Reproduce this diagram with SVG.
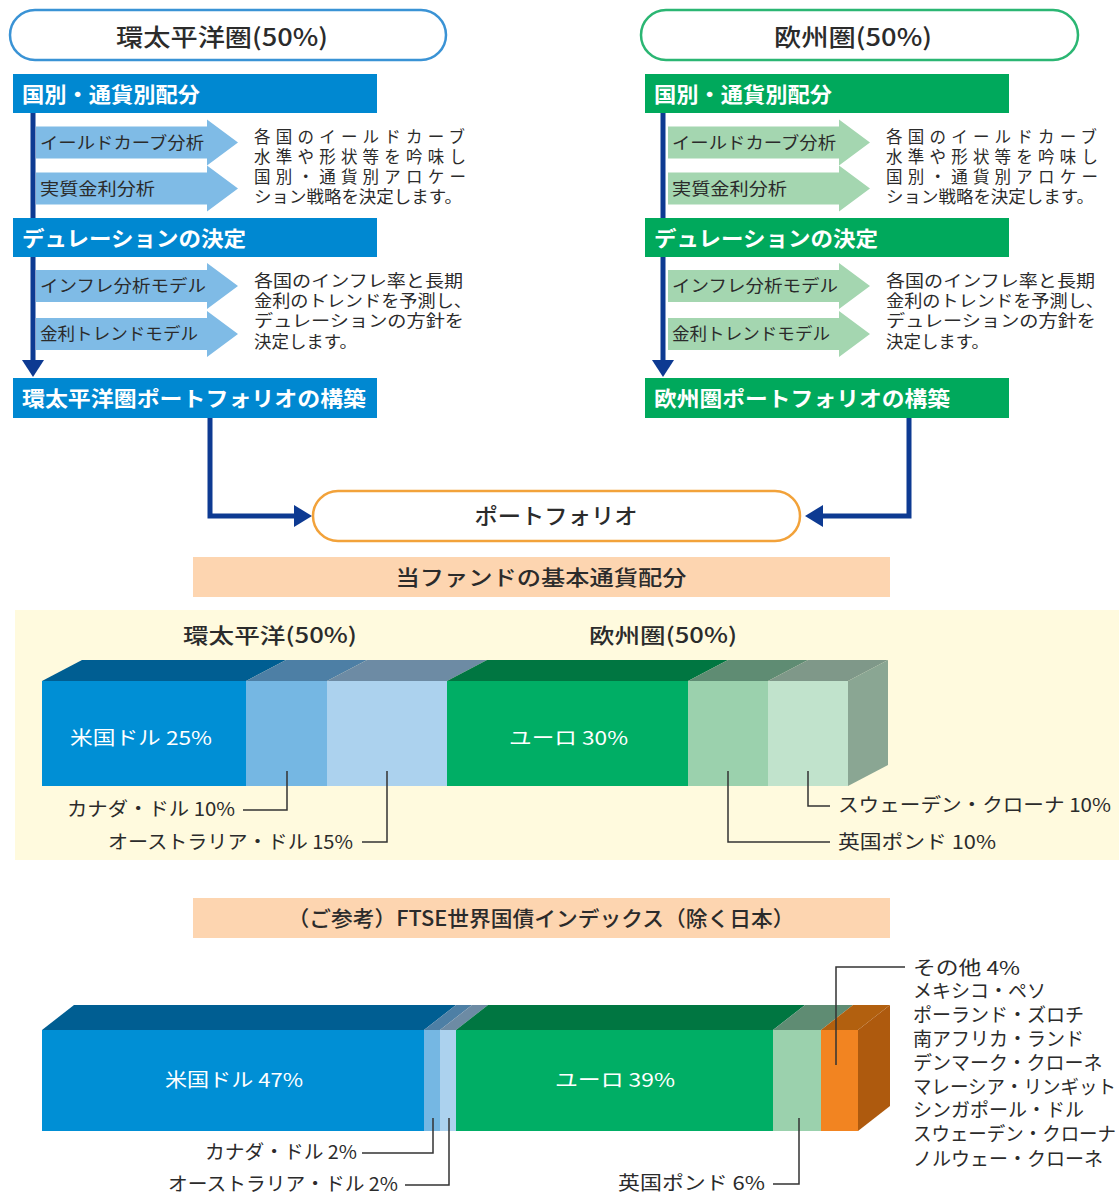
<svg xmlns="http://www.w3.org/2000/svg" width="1119" height="1194" viewBox="0 0 1119 1194">
<style>
text{font-family:"Noto Sans CJK JP","Noto Sans",sans-serif;fill:#2b2b2b}
.hd{fill:#fff;font-weight:700;font-size:21px}
.al{font-size:17px}
.ds{font-size:16.5px}
.ttl{font-size:24px;font-weight:500}
.lb{font-size:19px}
.wl{font-size:19px;fill:#fff}
.bh{fill:#0088d1}
.gh{fill:#00a95c}
.ba{fill:#7fbbe6}
.ga{fill:#a4d6b0}
.vl{stroke:#0d3a92;stroke-width:5;fill:none}
.ld{stroke:#333;stroke-width:1.5;fill:none}
</style>
<defs>
<polygon id="arw" points="0,-16 171,-16 171,-23 202,0 171,23 171,16 0,16"/>
</defs>

<g id="pill-asia">
<rect x="10" y="10" width="436" height="50" rx="25" fill="#fff" stroke="#3a93d5" stroke-width="2.5"/>
<text class="ttl" x="222" y="46" text-anchor="middle" textLength="212" lengthAdjust="spacingAndGlyphs">環太平洋圏(50%)</text>
</g>
<g id="pill-europe">
<rect x="641" y="10" width="437" height="50" rx="25" fill="#fff" stroke="#2bb673" stroke-width="2.5"/>
<text class="ttl" x="853" y="46" text-anchor="middle" textLength="158" lengthAdjust="spacingAndGlyphs">欧州圏(50%)</text>
</g>

<g id="asia-flow">
<line class="vl" x1="33" y1="113" x2="33" y2="362"/>
<polygon points="22,360 44,360 33,377" fill="#0d3a92"/>
<g id="asia-h1"><rect class="bh" x="13" y="74" width="364" height="39"/><text class="hd" x="22" y="102" textLength="178" lengthAdjust="spacingAndGlyphs">国別・通貨別配分</text></g>
<g id="asia-a1"><use href="#arw" class="ba" x="36" y="142.5"/><text class="al" x="40" y="148.5" textLength="164" lengthAdjust="spacingAndGlyphs">イールドカーブ分析</text></g>
<g id="asia-a2"><use href="#arw" class="ba" x="36" y="188.5"/><text class="al" x="40" y="194.5" textLength="115" lengthAdjust="spacingAndGlyphs">実質金利分析</text></g>
<g id="asia-d1">
<text class="ds" x="254" y="143" textLength="211" lengthAdjust="spacing">各国のイールドカーブ</text>
<text class="ds" x="254" y="163" textLength="212" lengthAdjust="spacing">水準や形状等を吟味し</text>
<text class="ds" x="254" y="183" textLength="212" lengthAdjust="spacing">国別・通貨別アロケー</text>
<text class="ds" x="254" y="203" textLength="208" lengthAdjust="spacingAndGlyphs">ション戦略を決定します。</text>
</g>
<g id="asia-h2"><rect class="bh" x="13" y="218" width="364" height="39"/><text class="hd" x="22" y="246" textLength="224" lengthAdjust="spacingAndGlyphs">デュレーションの決定</text></g>
<g id="asia-a3"><use href="#arw" class="ba" x="36" y="286"/><text class="al" x="40" y="292" textLength="166" lengthAdjust="spacingAndGlyphs">インフレ分析モデル</text></g>
<g id="asia-a4"><use href="#arw" class="ba" x="36" y="334"/><text class="al" x="40" y="340" textLength="158" lengthAdjust="spacingAndGlyphs">金利トレンドモデル</text></g>
<g id="asia-d2">
<text class="ds" x="254" y="287" textLength="209" lengthAdjust="spacingAndGlyphs">各国のインフレ率と長期</text>
<text class="ds" x="254" y="307" textLength="218" lengthAdjust="spacingAndGlyphs">金利のトレンドを予測し、</text>
<text class="ds" x="254" y="327" textLength="210" lengthAdjust="spacingAndGlyphs">デュレーションの方針を</text>
<text class="ds" x="254" y="348" textLength="103" lengthAdjust="spacingAndGlyphs">決定します。</text>
</g>
<g id="asia-h3"><rect class="bh" x="13" y="378" width="364" height="40"/><text class="hd" x="22" y="406" textLength="344" lengthAdjust="spacingAndGlyphs">環太平洋圏ポートフォリオの構築</text></g>
</g>

<g id="europe-flow">
<line class="vl" x1="663" y1="113" x2="663" y2="362"/>
<polygon points="652,360 674,360 663,377" fill="#0d3a92"/>
<g id="eu-h1"><rect class="gh" x="645" y="74" width="364" height="39"/><text class="hd" x="654" y="102" textLength="178" lengthAdjust="spacingAndGlyphs">国別・通貨別配分</text></g>
<g id="eu-a1"><use href="#arw" class="ga" x="668" y="142.5"/><text class="al" x="672" y="148.5" textLength="164" lengthAdjust="spacingAndGlyphs">イールドカーブ分析</text></g>
<g id="eu-a2"><use href="#arw" class="ga" x="668" y="188.5"/><text class="al" x="672" y="194.5" textLength="115" lengthAdjust="spacingAndGlyphs">実質金利分析</text></g>
<g id="eu-d1">
<text class="ds" x="886" y="143" textLength="211" lengthAdjust="spacing">各国のイールドカーブ</text>
<text class="ds" x="886" y="163" textLength="212" lengthAdjust="spacing">水準や形状等を吟味し</text>
<text class="ds" x="886" y="183" textLength="212" lengthAdjust="spacing">国別・通貨別アロケー</text>
<text class="ds" x="886" y="203" textLength="208" lengthAdjust="spacingAndGlyphs">ション戦略を決定します。</text>
</g>
<g id="eu-h2"><rect class="gh" x="645" y="218" width="364" height="39"/><text class="hd" x="654" y="246" textLength="224" lengthAdjust="spacingAndGlyphs">デュレーションの決定</text></g>
<g id="eu-a3"><use href="#arw" class="ga" x="668" y="286"/><text class="al" x="672" y="292" textLength="166" lengthAdjust="spacingAndGlyphs">インフレ分析モデル</text></g>
<g id="eu-a4"><use href="#arw" class="ga" x="668" y="334"/><text class="al" x="672" y="340" textLength="158" lengthAdjust="spacingAndGlyphs">金利トレンドモデル</text></g>
<g id="eu-d2">
<text class="ds" x="886" y="287" textLength="209" lengthAdjust="spacingAndGlyphs">各国のインフレ率と長期</text>
<text class="ds" x="886" y="307" textLength="218" lengthAdjust="spacingAndGlyphs">金利のトレンドを予測し、</text>
<text class="ds" x="886" y="327" textLength="210" lengthAdjust="spacingAndGlyphs">デュレーションの方針を</text>
<text class="ds" x="886" y="348" textLength="103" lengthAdjust="spacingAndGlyphs">決定します。</text>
</g>
<g id="eu-h3"><rect class="gh" x="645" y="378" width="364" height="40"/><text class="hd" x="654" y="406" textLength="296" lengthAdjust="spacingAndGlyphs">欧州圏ポートフォリオの構築</text></g>
</g>

<g id="connectors">
<polyline class="vl" points="210,418 210,516 296,516"/>
<polygon points="294,505 312,516 294,527" fill="#0d3a92"/>
<polyline class="vl" points="909,418 909,516 821,516"/>
<polygon points="823,505 805,516 823,527" fill="#0d3a92"/>
</g>

<g id="portfolio">
<rect x="313" y="491" width="487" height="50" rx="25" fill="#fff" stroke="#f2a23a" stroke-width="2.5"/>
<text x="556" y="524" font-size="22" font-weight="500" text-anchor="middle" textLength="163" lengthAdjust="spacingAndGlyphs">ポートフォリオ</text>
</g>

<g id="band1">
<rect x="193" y="557" width="697" height="40" fill="#fdd5b0"/>
<text x="541" y="585" font-size="21" font-weight="500" fill="#444" text-anchor="middle" textLength="291" lengthAdjust="spacingAndGlyphs">当ファンドの基本通貨配分</text>
</g>

<g id="chart1">
<rect x="15" y="610" width="1104" height="250" fill="#fffade"/>
<text x="270" y="643" font-size="21" font-weight="500" text-anchor="middle" textLength="174" lengthAdjust="spacingAndGlyphs">環太平洋(50%)</text>
<text x="663" y="643" font-size="21" font-weight="500" text-anchor="middle" textLength="148" lengthAdjust="spacingAndGlyphs">欧州圏(50%)</text>
<polygon points="42,681 246,681 286,660 82,660" fill="#005e92"/>
<polygon points="246,681 327,681 367,660 286,660" fill="#4d7fa5"/>
<polygon points="327,681 447,681 487,660 367,660" fill="#6d8ba4"/>
<polygon points="447,681 688,681 728,660 487,660" fill="#007641"/>
<polygon points="688,681 768,681 808,660 728,660" fill="#5f8c73"/>
<polygon points="768,681 848,681 888,660 808,660" fill="#7f9889"/>
<polygon points="848,681 888,660 888,765 848,786" fill="#8aa693"/>
<rect x="42" y="681" width="204" height="105" fill="#008fd5"/>
<rect x="246" y="681" width="81" height="105" fill="#75b7e3"/>
<rect x="327" y="681" width="120" height="105" fill="#acd2ee"/>
<rect x="447" y="681" width="241" height="105" fill="#00ae65"/>
<rect x="688" y="681" width="80" height="105" fill="#9bd1ad"/>
<rect x="768" y="681" width="80" height="105" fill="#c1e3cc"/>
<text class="wl" x="70" y="745" textLength="142" lengthAdjust="spacingAndGlyphs">米国ドル 25%</text>
<text class="wl" x="509" y="745" textLength="119" lengthAdjust="spacingAndGlyphs">ユーロ 30%</text>
<polyline class="ld" points="287,771 287,810 243,810"/>
<polyline class="ld" points="387,771 387,842 362,842"/>
<polyline class="ld" points="808,771 808,806 830,806"/>
<polyline class="ld" points="728,771 728,842 830,842"/>
<text class="lb" x="235" y="816" text-anchor="end" textLength="168" lengthAdjust="spacingAndGlyphs">カナダ・ドル 10%</text>
<text class="lb" x="353" y="849" text-anchor="end" textLength="245" lengthAdjust="spacingAndGlyphs">オーストラリア・ドル 15%</text>
<text class="lb" x="838" y="812" textLength="273" lengthAdjust="spacingAndGlyphs">スウェーデン・クローナ 10%</text>
<text class="lb" x="838" y="849" textLength="158" lengthAdjust="spacingAndGlyphs">英国ポンド 10%</text>
</g>

<g id="band2">
<rect x="193" y="898" width="697" height="40" fill="#fdd5b0"/>
<text x="541" y="926" font-size="21" font-weight="500" fill="#444" text-anchor="middle" textLength="507" lengthAdjust="spacingAndGlyphs">（ご参考）FTSE世界国債インデックス（除く日本）</text>
</g>

<g id="chart2">
<polygon points="42,1030 424,1030 456,1005 74,1005" fill="#005e92"/>
<polygon points="424,1030 440,1030 472,1005 456,1005" fill="#4d7fa5"/>
<polygon points="440,1030 456,1030 488,1005 472,1005" fill="#6d8ba4"/>
<polygon points="456,1030 773,1030 805,1005 488,1005" fill="#007641"/>
<polygon points="773,1030 821,1030 853,1005 805,1005" fill="#5f8c73"/>
<polygon points="821,1030 858,1030 890,1005 853,1005" fill="#b2600f"/>
<polygon points="858,1030 890,1005 890,1106 858,1131" fill="#ae5a0e"/>
<rect x="42" y="1030" width="382" height="101" fill="#008fd5"/>
<rect x="424" y="1030" width="16" height="101" fill="#75b7e3"/>
<rect x="440" y="1030" width="16" height="101" fill="#acd2ee"/>
<rect x="456" y="1030" width="317" height="101" fill="#00ae65"/>
<rect x="773" y="1030" width="48" height="101" fill="#9bd1ad"/>
<rect x="821" y="1030" width="37" height="101" fill="#f28421"/>
<text class="wl" x="165" y="1087" textLength="138" lengthAdjust="spacingAndGlyphs">米国ドル 47%</text>
<text class="wl" x="555" y="1087" textLength="120" lengthAdjust="spacingAndGlyphs">ユーロ 39%</text>
<polyline class="ld" points="433,1118 433,1153 362,1153"/>
<polyline class="ld" points="449,1118 449,1185 405,1185"/>
<polyline class="ld" points="799,1118 799,1184 773,1184"/>
<polyline class="ld" points="836,1065 836,967 905,967"/>
<text class="lb" x="357" y="1159" text-anchor="end" textLength="152" lengthAdjust="spacingAndGlyphs">カナダ・ドル 2%</text>
<text class="lb" x="398" y="1191" text-anchor="end" textLength="230" lengthAdjust="spacingAndGlyphs">オーストラリア・ドル 2%</text>
<text class="lb" x="765" y="1190" text-anchor="end" textLength="147" lengthAdjust="spacingAndGlyphs">英国ポンド 6%</text>
<g id="legend">
<text class="lb" x="913" y="975" textLength="107" lengthAdjust="spacingAndGlyphs">その他 4%</text>
<text class="lb" x="913" y="998">メキシコ・ペソ</text>
<text class="lb" x="913" y="1022">ポーランド・ズロチ</text>
<text class="lb" x="913" y="1046">南アフリカ・ランド</text>
<text class="lb" x="913" y="1070">デンマーク・クローネ</text>
<text class="lb" x="913" y="1094" textLength="203" lengthAdjust="spacingAndGlyphs">マレーシア・リンギット</text>
<text class="lb" x="913" y="1117">シンガポール・ドル</text>
<text class="lb" x="913" y="1141" textLength="203" lengthAdjust="spacingAndGlyphs">スウェーデン・クローナ</text>
<text class="lb" x="913" y="1166">ノルウェー・クローネ</text>
</g>
</g>
</svg>
